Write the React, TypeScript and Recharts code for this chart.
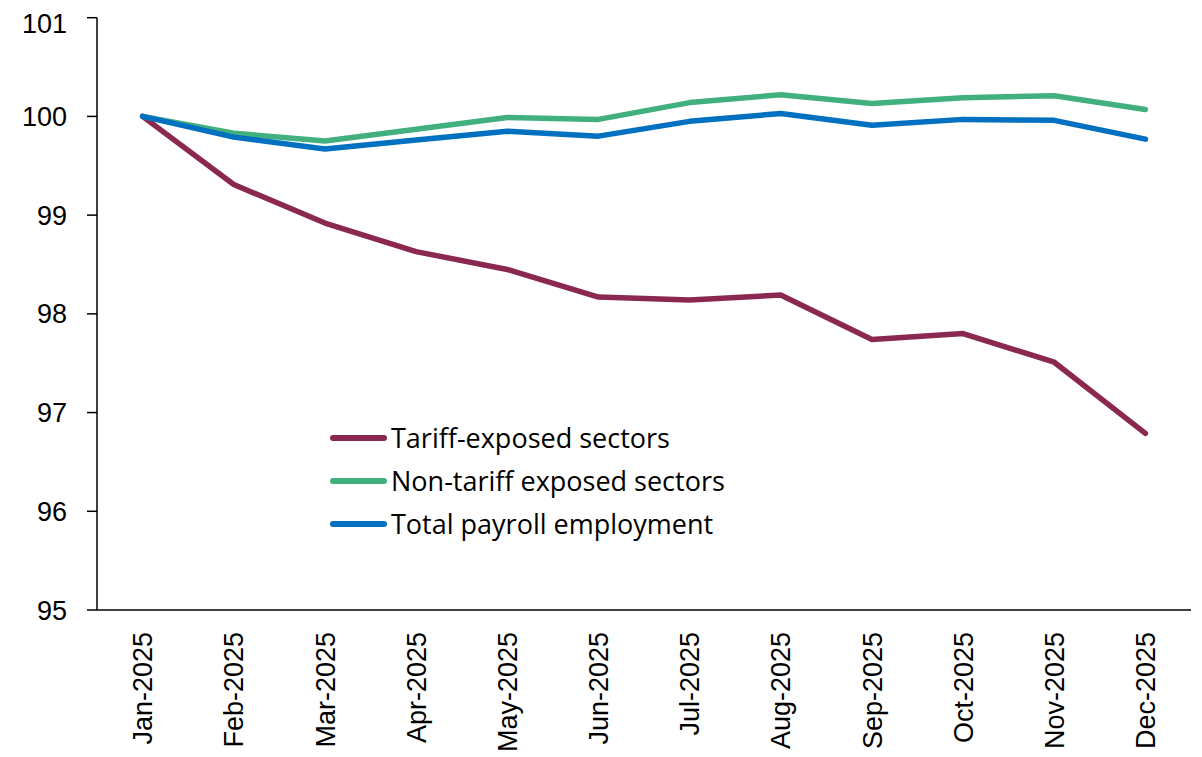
import React from 'react';
import { LineChart, Line, XAxis, YAxis, Legend } from 'recharts';

const months = ['Jan-2025', 'Feb-2025', 'Mar-2025', 'Apr-2025', 'May-2025', 'Jun-2025', 'Jul-2025', 'Aug-2025', 'Sep-2025', 'Oct-2025', 'Nov-2025', 'Dec-2025'];
const tariffExposed = [100, 99.31, 98.92, 98.63, 98.45, 98.17, 98.14, 98.19, 97.74, 97.8, 97.51, 96.79];
const nonTariffExposed = [100, 99.83, 99.75, 99.87, 99.99, 99.97, 100.14, 100.22, 100.13, 100.19, 100.21, 100.07];
const totalPayroll = [100, 99.79, 99.67, 99.76, 99.85, 99.8, 99.95, 100.03, 99.91, 99.97, 99.96, 99.77];
const yTicks = [95, 96, 97, 98, 99, 100, 101];

const seriesNames = ['Tariff-exposed sectors', 'Non-tariff exposed sectors', 'Total payroll employment'];
const seriesColors = ['#8B2850', '#42B07D', '#0070C0'];

const data = months.map((m, i) => ({
  month: m,
  tariff: tariffExposed[i],
  nonTariff: nonTariffExposed[i],
  total: totalPayroll[i],
}));

const axisFont = '"Liberation Sans", Arial, sans-serif';

const XTick = (props: any) => {
  const { x, y, payload } = props;
  return (
    <text
      x={x}
      y={y}
      transform={`rotate(-90, ${x}, ${y})`}
      textAnchor="end"
      dy="0.36em"
      fontSize={27}
      fontFamily={axisFont}
      fill="#000"
    >
      {payload.value}
    </text>
  );
};

const LegendContent = () => (
  <div style={{ fontFamily: '"Open Sans", sans-serif', fontSize: 27, color: '#000' }}>
    {seriesNames.map((name, i) => (
      <div key={name} style={{ display: 'flex', alignItems: 'center', height: 43 }}>
        <div style={{ width: 57, height: 6, borderRadius: 3, background: seriesColors[i], marginRight: 4 }} />
        <span style={{ lineHeight: '43px', whiteSpace: 'nowrap' }}>{name}</span>
      </div>
    ))}
  </div>
);

export default function App() {
  return (
    <div style={{ position: 'relative', width: 1194, height: 749 }}>
      <LineChart width={1194} height={749} data={data} margin={{ top: 9.7, right: 11, left: 0, bottom: 0 }}>
        <XAxis
          dataKey="month"
          height={147}
          padding={{ left: 45.6, right: 45.6 }}
          tickLine={false}
          tickSize={0}
          tickMargin={22}
          axisLine={{ stroke: '#000', strokeWidth: 1.5 }}
          tick={<XTick />}
          interval={0}
        />
        <YAxis
          width={89}
          domain={[95, 101]}
          ticks={yTicks}
          type="number"
          allowDataOverflow
          tickSize={10}
          tickMargin={20}
          axisLine={{ stroke: '#000', strokeWidth: 1.5 }}
          tickLine={{ stroke: '#000', strokeWidth: 1.5 }}
          tick={{ fontSize: 27, fill: '#000', fontFamily: axisFont }}
        />
        <Legend
          layout="vertical"
          align="center"
          verticalAlign="middle"
          content={<LegendContent />}
          wrapperStyle={{ left: 322, top: 408, width: 'auto' }}
        />
        <Line dataKey="tariff" name={seriesNames[0]} stroke={seriesColors[0]} strokeWidth={5.5} dot={false} strokeLinecap="round" strokeLinejoin="round" isAnimationActive={false} />
        <Line dataKey="nonTariff" name={seriesNames[1]} stroke={seriesColors[1]} strokeWidth={5.5} dot={false} strokeLinecap="round" strokeLinejoin="round" isAnimationActive={false} />
        <Line dataKey="total" name={seriesNames[2]} stroke={seriesColors[2]} strokeWidth={5.5} dot={false} strokeLinecap="round" strokeLinejoin="round" isAnimationActive={false} />
      </LineChart>
    </div>
  );
}
